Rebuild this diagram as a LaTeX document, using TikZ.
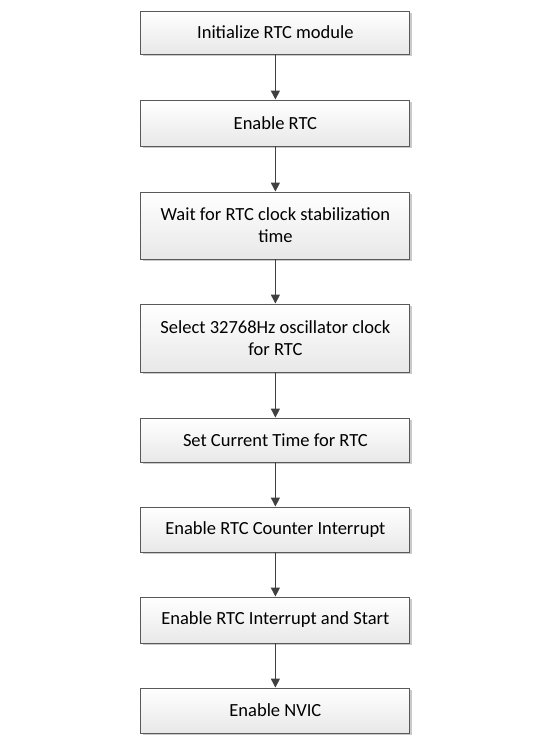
\documentclass[tikz,border=0pt]{standalone}
\usepackage{fontspec}
\setmainfont{Carlito}
\usetikzlibrary{arrows.meta,shadows}
\begin{document}
\begin{tikzpicture}[x=1pt,y=-1pt,
  stepbox/.style={draw=black!65, line width=0.9pt, top color=white, bottom color=black!9,
    minimum width=269pt, align=center, inner sep=0pt,
    font=\fontsize{18.5}{22}\selectfont,
    drop shadow={shadow xshift=1.6pt, shadow yshift=-1.6pt, fill=black!35, opacity=0.6}},
  flow/.style={draw=black!75, line width=1.4pt, -{Triangle[length=9pt,width=9pt]}}]
\useasboundingbox (0,0) rectangle (554,747);
\node[stepbox, minimum height=43pt] (n1) at (275.4,32.5) {Initialize RTC module};
\node[stepbox, minimum height=46pt] (n2) at (275.4,123) {Enable RTC};
\node[stepbox, minimum height=67pt] (n3) at (275.4,225.5) {Wait for RTC clock stabilization\\time};
\node[stepbox, minimum height=68pt] (n4) at (275.4,338) {Select 32768Hz oscillator clock\\for RTC};
\node[stepbox, minimum height=44pt] (n5) at (275.4,440) {Set Current Time for RTC};
\node[stepbox, minimum height=45pt] (n6) at (275.4,529.5) {Enable RTC Counter Interrupt};
\node[stepbox, minimum height=46pt] (n7) at (275.4,620) {Enable RTC Interrupt and Start};
\node[stepbox, minimum height=45pt] (n8) at (275.4,710.5) {Enable NVIC};
\draw[flow] (n1) -- (n2);
\draw[flow] (n2) -- (n3);
\draw[flow] (n3) -- (n4);
\draw[flow] (n4) -- (n5);
\draw[flow] (n5) -- (n6);
\draw[flow] (n6) -- (n7);
\draw[flow] (n7) -- (n8);
\end{tikzpicture}
\end{document}
